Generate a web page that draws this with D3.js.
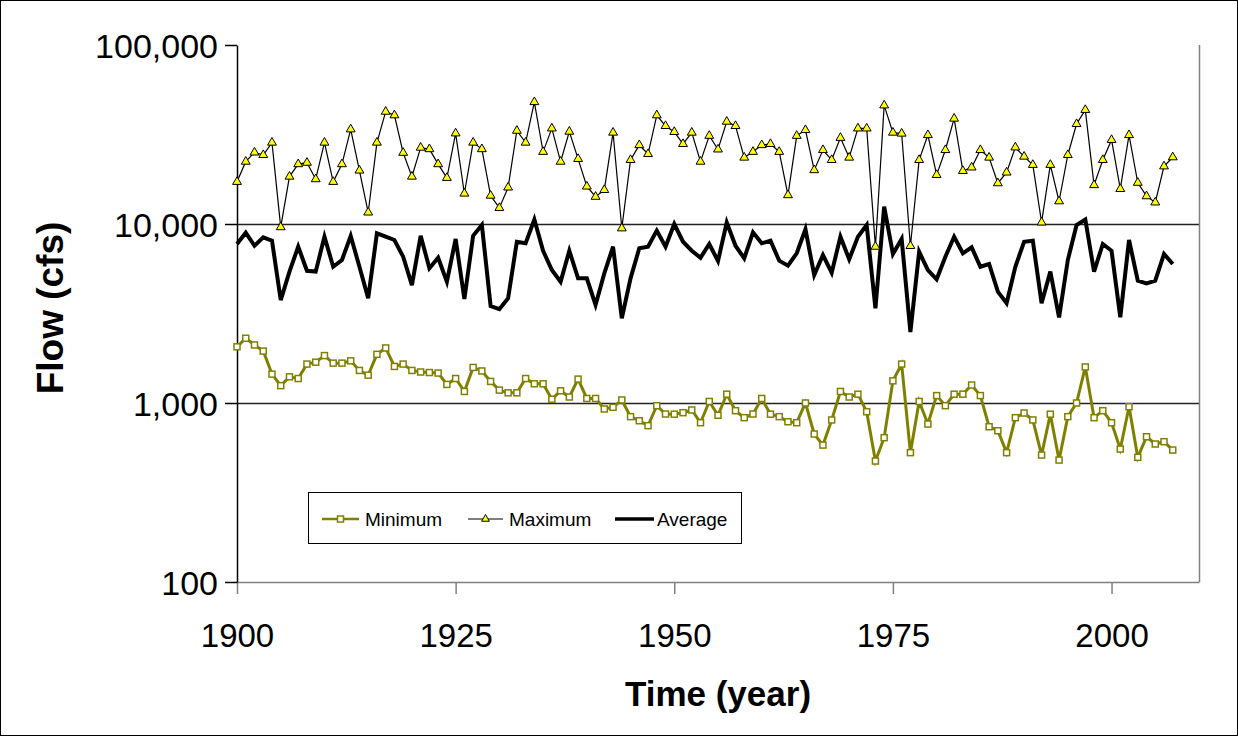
<!DOCTYPE html>
<html><head><meta charset="utf-8">
<script src="https://cdn.jsdelivr.net/npm/d3@7"></script>
<style>body{margin:0;background:#fff;}svg{display:block;font-family:Arial,"Liberation Sans",sans-serif;}</style>
</head><body>
<svg id="chart" width="1238" height="736"></svg>
<script>
const startYear = 1900;
const maximum = [17200,22300,25100,24300,28500,9600,18400,21600,22000,17800,28500,17200,21600,33800,19900,11600,28500,42400,40500,25000,18400,26700,26200,21600,18100,32100,14800,28500,26200,14400,12300,16000,33200,28500,48000,25300,34200,22300,32800,23100,16200,14200,15500,32400,9460,22800,27600,24600,40500,35300,32700,28000,32400,22300,31100,26100,37300,35300,23500,25300,27600,28000,25300,14500,31100,33500,20000,25900,22800,30300,23500,34200,34200,7470,46000,32400,32000,7540,22800,31400,18800,25900,38800,19800,20700,25900,23500,16900,19400,26800,23800,21400,10200,21400,13400,24300,36200,43400,16500,22800,29500,15700,31400,17000,14300,13200,21000,23600];
const average = [7730,8940,7560,8430,8070,3760,5420,7470,5480,5420,8490,5770,6290,8570,5770,3850,8870,8490,8140,6570,4560,8600,5660,6480,4760,8250,3810,8600,9870,3480,3340,3850,7960,7800,10600,7090,5530,4760,7090,4970,4970,3530,5300,7470,2970,4970,7320,7470,9180,7470,10000,7960,7090,6480,7730,6210,10200,7560,6430,8990,7800,8070,6240,5850,6860,9340,5190,6710,5350,8490,6350,8490,9870,3380,12500,6800,8250,2490,7000,5530,4910,6570,8490,6860,7410,5770,5980,4190,3610,5770,7960,8070,3610,5420,3010,6290,9870,10600,5420,7730,7090,3010,8140,4820,4660,4820,6800,5980];
const minimum = [2060,2300,2110,1950,1450,1250,1400,1370,1650,1690,1840,1670,1670,1720,1520,1430,1870,2030,1600,1650,1520,1490,1480,1470,1270,1370,1160,1580,1510,1320,1180,1140,1140,1370,1280,1280,1050,1170,1080,1360,1060,1060,926,946,1040,839,796,747,966,868,866,883,914,776,1020,854,1120,906,828,868,1060,866,839,786,776,1000,671,582,804,1160,1080,1120,894,474,640,1330,1650,528,1020,763,1100,966,1120,1120,1260,1100,737,700,528,828,879,804,512,866,480,839,1000,1590,828,906,776,553,953,497,648,590,608,546];
const xTicks = [1900,1925,1950,1975,2000];
const yTicks = [100,1000,10000,100000];
const gridValues = [1000,10000];
const legendNames = ["Minimum","Maximum","Average"];
const xLabel = "Time (year)";
const yLabel = "Flow (cfs)";

const svg = d3.select("#chart");
const L = 237, R = 1199, T = 45, B = 582;
const x = d3.scaleLinear().domain([1900, 2010]).range([L, R]);
const y = d3.scaleLog().domain([100, 100000]).range([B, T]);
const FONT = "Arial,'Liberation Sans',sans-serif";

// outer frame
svg.append("rect").attr("x",0.5).attr("y",0.5).attr("width",1237).attr("height",735)
  .attr("fill","#fff").attr("stroke","#000").attr("stroke-width",1);

// gridlines
svg.append("g").selectAll("line").data(gridValues).join("line")
  .attr("x1",L).attr("x2",R).attr("y1",d=>Math.round(y(d))+0.5).attr("y2",d=>Math.round(y(d))+0.5)
  .attr("stroke","#222").attr("stroke-width",1.3);
// right border
svg.append("line").attr("x1",R+0.5).attr("x2",R+0.5).attr("y1",T).attr("y2",B)
  .attr("stroke","#808080").attr("stroke-width",1.5);

// x axis
const xAxis = d3.axisBottom(x).tickValues(xTicks).tickFormat(d3.format("d")).tickSize(12).tickSizeOuter(0);
const gx = svg.append("g").attr("transform",`translate(0,${B})`).call(xAxis);
gx.select(".domain").attr("stroke","#808080").attr("stroke-width",1.5);
gx.selectAll(".tick line").attr("stroke","#808080").attr("stroke-width",1.5);
gx.selectAll(".tick text").attr("font-size",33).attr("fill","#000").attr("y",65).attr("dy",0).attr("font-family",FONT);

// y axis
const yAxis = d3.axisLeft(y).tickValues(yTicks).tickFormat(d3.format(",")).tickSize(12).tickSizeOuter(0);
const gy = svg.append("g").attr("transform",`translate(${L},0)`).call(yAxis);
gy.select(".domain").attr("stroke","#000").attr("stroke-width",1.5);
gy.selectAll(".tick line").attr("stroke","#000").attr("stroke-width",1.5);
gy.selectAll(".tick text").attr("font-size",34).attr("fill","#000").attr("x",-19).attr("dy","0.36em").attr("font-family",FONT);

// axis titles
svg.append("text").attr("x",718).attr("y",706).attr("text-anchor","middle")
  .attr("font-size",35).attr("font-weight","bold").attr("font-family",FONT).text(xLabel);
svg.append("text").attr("transform","translate(63,308) rotate(-90)").attr("text-anchor","middle")
  .attr("font-size",37).attr("font-weight","bold").attr("font-family",FONT).text(yLabel);

const line = d3.line().x((d,i)=>x(startYear+i)).y(d=>y(d));

// average
svg.append("path").datum(average).attr("d",line).attr("fill","none")
  .attr("stroke","#000").attr("stroke-width",4).attr("stroke-linejoin","miter");
// maximum
svg.append("path").datum(maximum).attr("d",line).attr("fill","none")
  .attr("stroke","#000").attr("stroke-width",1.2);
const tri = d3.symbol().type(d3.symbolTriangle).size(34);
svg.append("g").selectAll("path").data(maximum).join("path")
  .attr("d",tri).attr("transform",(d,i)=>`translate(${x(startYear+i)},${y(d)})`)
  .attr("fill","#ffff00").attr("stroke","#000").attr("stroke-width",1);
// minimum
svg.append("path").datum(minimum).attr("d",line).attr("fill","none")
  .attr("stroke","#808000").attr("stroke-width",3);
svg.append("g").selectAll("rect").data(minimum).join("rect")
  .attr("x",(d,i)=>x(startYear+i)-3).attr("y",d=>y(d)-3).attr("width",6).attr("height",6)
  .attr("fill","#fff").attr("stroke","#808000").attr("stroke-width",1.5);

// legend
const lg = svg.append("g");
lg.append("rect").attr("x",308.5).attr("y",492.5).attr("width",433).attr("height",51)
  .attr("fill","#fff").attr("stroke","#000").attr("stroke-width",1);
const ly = 519;
const items = [
  {name:legendNames[0], x0:322, tx:365},
  {name:legendNames[1], x0:468, tx:509},
  {name:legendNames[2], x0:615, tx:657}
];
// Minimum
lg.append("line").attr("x1",items[0].x0).attr("x2",items[0].x0+37).attr("y1",ly).attr("y2",ly).attr("stroke","#808000").attr("stroke-width",2.5);
lg.append("rect").attr("x",items[0].x0+18.5-3).attr("y",ly-3).attr("width",6).attr("height",6).attr("fill","#fff").attr("stroke","#808000").attr("stroke-width",1.5);
// Maximum
lg.append("line").attr("x1",items[1].x0).attr("x2",items[1].x0+35).attr("y1",ly).attr("y2",ly).attr("stroke","#000").attr("stroke-width",1.2);
lg.append("path").attr("d",d3.symbol().type(d3.symbolTriangle).size(26)).attr("transform",`translate(${items[1].x0+17.5},${ly})`).attr("fill","#ffff00").attr("stroke","#000").attr("stroke-width",1);
// Average
lg.append("line").attr("x1",items[2].x0).attr("x2",items[2].x0+39).attr("y1",ly).attr("y2",ly).attr("stroke","#000").attr("stroke-width",3.5);
lg.selectAll("text.lt").data(items).join("text").attr("class","lt")
  .attr("x",d=>d.tx).attr("y",ly+7).attr("font-size",19).attr("fill","#000").attr("font-family",FONT).text(d=>d.name);
</script>
</body></html>
